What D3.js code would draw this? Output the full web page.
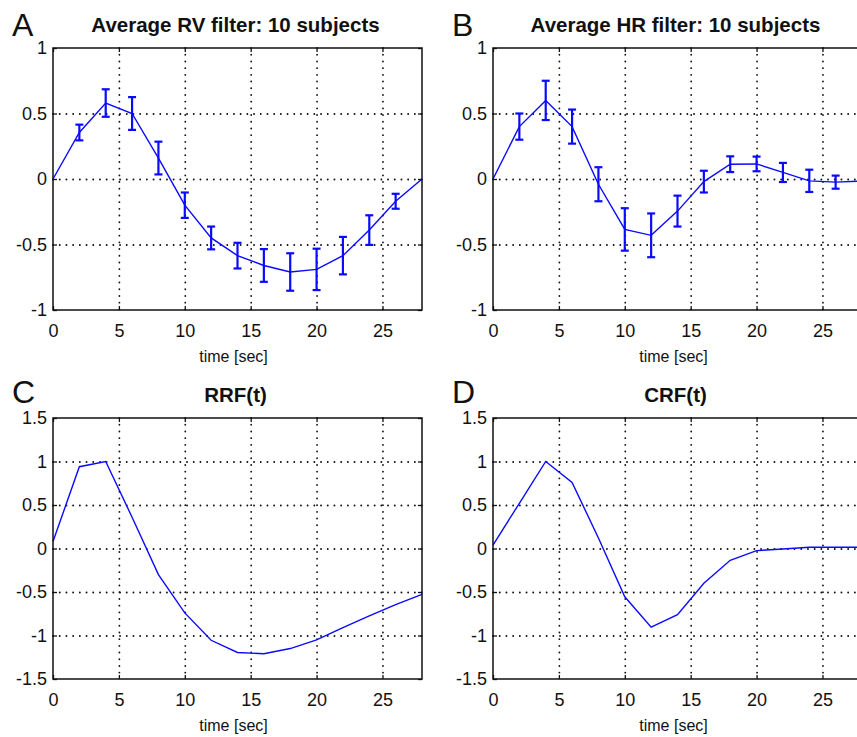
<!DOCTYPE html>
<html>
<head>
<meta charset="utf-8">
<script src="https://cdn.jsdelivr.net/npm/d3@7"></script>
<style>
  body { margin: 0; background: #fff; }
  svg { display: block; font-family: "Liberation Sans", Arial, Helvetica, sans-serif; }
</style>
</head>
<body>
<svg id="chart"></svg>
<script>
// time samples (sec), shared by all four panels
var time = [0, 2, 4, 6, 8, 10, 12, 14, 16, 18, 20, 22, 24, 26, 28];

// A: average RV filter (mean and half error bar), null = no bar
var rvMean = [0, 0.355, 0.58, 0.50, 0.16, -0.20, -0.45, -0.585, -0.66, -0.71, -0.69, -0.585, -0.39, -0.17, 0];
var rvErr  = [null, 0.06, 0.105, 0.125, 0.125, 0.097, 0.087, 0.098, 0.125, 0.143, 0.158, 0.143, 0.113, 0.057, null];

// B: average HR filter
var hrMean = [0, 0.40, 0.60, 0.40, -0.04, -0.385, -0.43, -0.245, -0.02, 0.113, 0.115, 0.05, -0.014, -0.024, -0.015];
var hrErr  = [null, 0.10, 0.15, 0.13, 0.13, 0.162, 0.167, 0.118, 0.083, 0.06, 0.056, 0.073, 0.085, 0.05, null];

// C: RRF(t), D: CRF(t)
var rrf = [0.08, 0.94, 1.0, 0.36, -0.30, -0.74, -1.055, -1.195, -1.21, -1.15, -1.05, -0.91, -0.775, -0.645, -0.527];
var crf = [0.04, 0.52, 1.0, 0.76, 0.12, -0.555, -0.905, -0.76, -0.40, -0.135, -0.025, -0.005, 0.015, 0.015, 0.015];

// tick labels
var xTicks = [0, 5, 10, 15, 20, 25];
var yTicksTop = [-1, -0.5, 0, 0.5, 1];
var yTicksBottom = [-1.5, -1, -0.5, 0, 0.5, 1, 1.5];

var W = 857, H = 737;
var svg = d3.select("#chart").attr("width", W).attr("height", H);

var blue = "#0a0aff";

function drawPanel(p) {
  var w = 369, h = p.h;
  var x = d3.scaleLinear().domain([0, 28]).range([0, w]);
  var y = d3.scaleLinear().domain(p.yDomain).range([h, 0]);
  var g = svg.append("g").attr("transform", "translate(" + p.left + "," + p.top + ")");

  // dotted grid
  var gx = xTicks.filter(function(d) { return d > 0; });
  var gy = p.yTicks.filter(function(d) { return d > p.yDomain[0] && d < p.yDomain[1]; });
  g.append("g").attr("class", "grid")
    .call(d3.axisBottom(x).tickValues(gx).tickSize(h).tickFormat(""))
    .call(function(s) { s.select(".domain").remove(); });
  g.append("g").attr("class", "grid")
    .call(d3.axisRight(y).tickValues(gy).tickSize(w).tickFormat(""))
    .call(function(s) { s.select(".domain").remove(); });
  g.selectAll(".grid line")
    .attr("stroke", "#111")
    .attr("stroke-width", 1.8)
    .attr("stroke-linecap", "round")
    .attr("stroke-dasharray", "0.1,6.6");

  // tick labels
  g.append("g").attr("class", "lab")
    .attr("transform", "translate(0," + h + ")")
    .call(d3.axisBottom(x).tickValues(xTicks).tickSize(0).tickPadding(14).tickFormat(String));
  g.append("g").attr("class", "lab")
    .call(d3.axisLeft(y).tickValues(p.yTicks).tickSize(0).tickPadding(6).tickFormat(String));
  g.selectAll(".lab .domain").remove();
  g.selectAll(".lab text")
    .attr("font-family", "Liberation Sans, Arial, sans-serif")
    .attr("font-size", 18).attr("fill", "#111");

  // inward tick marks on all four sides
  var tk = 4;
  g.append("g").attr("class", "tk").attr("transform", "translate(0," + h + ")")
    .call(d3.axisBottom(x).tickValues(xTicks).tickSize(-tk).tickFormat(""));
  g.append("g").attr("class", "tk")
    .call(d3.axisTop(x).tickValues(xTicks).tickSize(-tk).tickFormat(""));
  g.append("g").attr("class", "tk")
    .call(d3.axisLeft(y).tickValues(p.yTicks).tickSize(-tk).tickFormat(""));
  g.append("g").attr("class", "tk").attr("transform", "translate(" + w + ",0)")
    .call(d3.axisRight(y).tickValues(p.yTicks).tickSize(-tk).tickFormat(""));
  g.selectAll(".tk .domain").remove();
  g.selectAll(".tk line").attr("stroke", "#111").attr("stroke-width", 1.3);

  // data line
  var pts = time.map(function(t, i) { return { t: t, v: p.values[i], e: p.err ? p.err[i] : null }; });
  g.append("path")
    .datum(pts)
    .attr("fill", "none")
    .attr("stroke", blue)
    .attr("stroke-width", 1.4)
    .attr("d", d3.line().x(function(d) { return x(d.t); }).y(function(d) { return y(d.v); }));

  // error bars
  if (p.err) {
    var eb = g.selectAll(".eb").data(pts.filter(function(d) { return d.e != null; }))
      .enter().append("g").attr("class", "eb")
      .attr("stroke", blue).attr("stroke-width", 2.2);
    eb.append("line")
      .attr("x1", function(d) { return x(d.t); }).attr("x2", function(d) { return x(d.t); })
      .attr("y1", function(d) { return y(d.v + d.e); }).attr("y2", function(d) { return y(d.v - d.e); });
    eb.append("line")
      .attr("x1", function(d) { return x(d.t) - 4; }).attr("x2", function(d) { return x(d.t) + 4; })
      .attr("y1", function(d) { return y(d.v + d.e); }).attr("y2", function(d) { return y(d.v + d.e); });
    eb.append("line")
      .attr("x1", function(d) { return x(d.t) - 4; }).attr("x2", function(d) { return x(d.t) + 4; })
      .attr("y1", function(d) { return y(d.v - d.e); }).attr("y2", function(d) { return y(d.v - d.e); });
  }

  // box
  g.append("rect").attr("width", w).attr("height", h)
    .attr("fill", "none").attr("stroke", "#111").attr("stroke-width", 1.5);

  // title, xlabel, panel letter
  g.append("text").attr("x", w / 2 - 2).attr("y", -16)
    .attr("text-anchor", "middle").attr("font-weight", "bold").attr("font-size", 20.5)
    .attr("fill", "#111").text(p.title);
  g.append("text").attr("x", w / 2 - 4).attr("y", h + 52)
    .attr("text-anchor", "middle").attr("font-size", 16).attr("fill", "#111")
    .text("time [sec]");
  svg.append("text").attr("x", p.left - 41).attr("y", p.top - p.letterGap)
    .attr("font-size", 32).attr("fill", "#111").text(p.letter);
}

drawPanel({ letter: "A", title: "Average RV filter: 10 subjects", left: 53, top: 48, h: 262, letterGap: 12,
  yDomain: [-1, 1], yTicks: yTicksTop, values: rvMean, err: rvErr });
drawPanel({ letter: "B", title: "Average HR filter: 10 subjects", left: 493, top: 48, h: 262, letterGap: 12,
  yDomain: [-1, 1], yTicks: yTicksTop, values: hrMean, err: hrErr });
drawPanel({ letter: "C", title: "RRF(t)", left: 53, top: 418, h: 261, letterGap: 15,
  yDomain: [-1.5, 1.5], yTicks: yTicksBottom, values: rrf, err: null });
drawPanel({ letter: "D", title: "CRF(t)", left: 493, top: 418, h: 261, letterGap: 15,
  yDomain: [-1.5, 1.5], yTicks: yTicksBottom, values: crf, err: null });
</script>
</body>
</html>
